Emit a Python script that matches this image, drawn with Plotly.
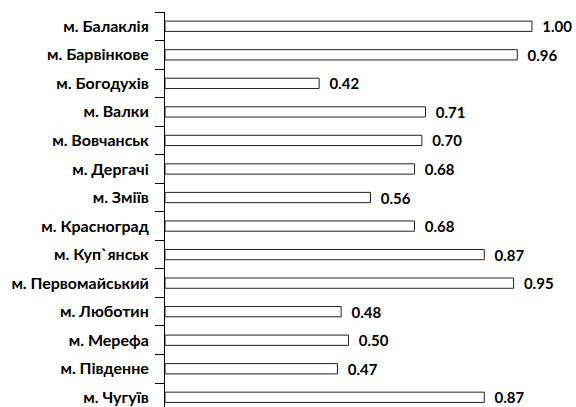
import plotly.graph_objects as go

categories = ["м. Балаклія", "м. Барвінкове", "м. Богодухів", "м. Валки", "м. Вовчанськ",
              "м. Дергачі", "м. Зміїв", "м. Красноград", "м. Куп`янськ", "м. Первомайський",
              "м. Люботин", "м. Мерефа", "м. Південне", "м. Чугуїв"]
values = [1.00, 0.96, 0.42, 0.71, 0.70, 0.68, 0.56, 0.68, 0.87, 0.95, 0.48, 0.50, 0.47, 0.87]

font_fam = "Lato, sans-serif"

fig = go.Figure(go.Bar(
    x=values, y=categories, orientation="h",
    marker=dict(color="white", line=dict(color="#222222", width=1)),
    width=0.36,
    text=[f"{v:.2f}" for v in values],
    texttemplate="  %{text}",
    textposition="outside",
    constraintext="none",
    cliponaxis=False,
    textfont=dict(family=font_fam, size=15, color="black", weight="bold"),
))

fig.update_layout(
    width=576, height=407,
    margin=dict(l=165, r=0, t=12, b=0, autoexpand=False),
    plot_bgcolor="white", paper_bgcolor="white",
    showlegend=False,
    xaxis=dict(range=[0, 1.12], visible=False, automargin=False),
    yaxis=dict(
        type="category", categoryorder="array", categoryarray=categories,
        range=[13.34, -0.5],
        automargin=False,
        showline=True, linecolor="black", linewidth=1,
        ticks="outside", ticklen=9, tickcolor="black", tickson="boundaries",
        showgrid=False,
        ticklabelstandoff=12,
        tickfont=dict(family=font_fam, size=16, color="black", weight="bold"),
    ),
)

fig.write_html("out.html", config={"displayModeBar": False},
               post_script="document.body.style.margin='0';document.body.style.overflow='hidden';")
